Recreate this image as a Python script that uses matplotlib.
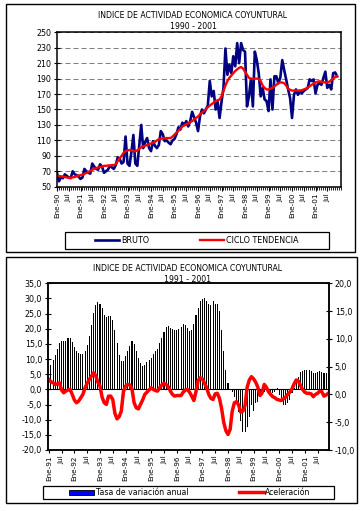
import matplotlib
matplotlib.use("Agg")
import matplotlib.pyplot as plt
from matplotlib.patches import Rectangle, Patch
from matplotlib.lines import Line2D
from matplotlib.ticker import FuncFormatter, MultipleLocator
import numpy as np

plt.rcParams['font.family'] = ['DejaVu Sans']

# ---------------- Top chart data (monthly, Jan-1990 .. Dec-2001) ----------------
bruto = [
    68, 57, 62, 61, 66, 64, 62, 61, 70, 66, 65, 63,        # 1990
    60, 62, 73, 70, 68, 67, 80, 76, 73, 72, 79, 76,        # 1991
    68, 70, 72, 77, 75, 73, 78, 88, 86, 80, 82, 115,       # 1992
    80, 77, 95, 117, 80, 77, 103, 130, 100, 108, 113, 100, # 1993
    96, 109, 103, 100, 104, 122, 118, 109, 110, 107, 105, 110,  # 1994
    112, 118, 127, 124, 133, 130, 135, 128, 135, 147, 140, 133, # 1995
    122, 141, 150, 145, 150, 155, 187, 167, 174, 150, 160, 139, # 1996
    160, 178, 229, 195, 208, 197, 219, 206, 236, 210, 236, 227, # 1997
    225, 154, 167, 189, 154, 225, 214, 197, 167, 178, 163, 161, # 1998
    148, 189, 150, 193, 193, 184, 191, 214, 201, 189, 176, 165, # 1999
    139, 169, 176, 169, 174, 171, 174, 176, 178, 189, 187, 189, # 2000
    171, 182, 184, 182, 191, 199, 178, 182, 176, 197, 198, 193, # 2001
]
ciclo = [
    64, 64, 63.5, 63, 62.5, 62, 61.5, 61.5, 62, 62.5, 63.5, 64.5,
    65, 65.5, 66.5, 68, 69, 70.5, 72, 73, 74, 75, 75.5, 76,
    77, 77, 77.5, 77.5, 78, 78, 79, 83, 87, 90, 94, 96,
    97, 97.5, 97, 96.5, 96, 97, 99, 101, 102, 103, 104, 105,
    106, 107, 108, 110, 111.5, 112, 112.5, 113, 113, 113, 113, 115,
    117.5, 120, 122.5, 125, 128, 129.5, 131, 132, 133.5, 135, 137, 139,
    141, 143.5, 146, 148, 150.5, 153, 155, 157, 159, 161, 162, 163,
    167, 174, 181, 187, 191, 194, 197, 200, 202, 204, 205, 203,
    199, 195, 191, 190, 190, 190, 190, 189.5, 187, 181, 178, 176,
    176, 177, 178, 180, 182, 184, 185, 185, 184, 181, 177, 175.5,
    174.5, 174.5, 174.5, 174.5, 174.5, 175, 176, 177, 178.5, 180, 182, 183.5,
    185, 186, 186.5, 186, 185.5, 185, 185, 186, 188, 190, 192, 193,
]
top_title = "INDICE DE ACTIVIDAD ECONOMICA COYUNTURAL"
top_sub = "1990 - 2001"
top_start_year = 1990

# ---------------- Bottom chart data (monthly, Jan-1991 .. Dec-2001) ----------------
tasa = [
    3.3, 8, 9.6, 11.4, 13.2, 15.2, 16, 15.8, 16, 16.9, 16.9, 15.5,
    14, 12.5, 11.9, 11.6, 11.8, 12.7, 14.7, 17.6, 21.3, 25.1, 27.9, 28.8,
    28.1, 26.8, 24.6, 24, 24.3, 24.3, 22.9, 19.6, 15.4, 11.4, 9.2, 9.4,
    11, 12.7, 14.4, 16, 14.9, 12.5, 10.5, 8.6, 7.7, 8, 8.9, 9.7,
    10.3, 11.6, 12.5, 13.2, 15.4, 17.1, 19, 20.7, 21, 20.4, 20, 19.6,
    19.6, 20, 20.7, 21.5, 21.3, 20.2, 19.3, 19.6, 21.6, 24.6, 27, 29,
    29.8, 30.1, 29.3, 28.2, 27.9, 29, 28.1, 28.2, 25.7, 19.6, 12.5, 6.4,
    2.0, -0.3, -1, -2.5, -4, -7.4, -10.5, -14, -14, -12.3, -9, -5,
    -7, -4.6, -4, -2.4, -1.9, -0.8, 0.3, -1.3, -1.9, -1.3, -0.8, 0.3,
    -1.9, -3, -5.2, -5.2, -4.6, -3.5, -1.3, 0.3, 2.5, 4.2, 5.6, 6.1,
    6.4, 6.4, 6.4, 6.1, 5.5, 5.5, 5.8, 6.1, 5.8, 5.5, 5.3, 5.0,
]
aceleracion = [
    2.7, 2.3, 2.1, 1.8, 1.9, 2.1, 0.8, 0.3, 0.6, 0.8, 0.9, 0.0,
    -1.0, -1.5, -1.2, -0.6, 0.0, 1.2, 2.0, 2.7, 3.3, 3.9, 3.4, 2.2,
    1.5, -0.5, -1.5, -1.8, -0.3, -0.3, -0.9, -3.4, -4.4, -4.0, -3.0, 0.5,
    1.5, 1.8, 1.7, 1.0, -1.5, -2.4, -2.6, -1.8, -1.0, 0.0, 0.4, 0.8,
    1.2, 0.9, 0.7, 0.6, 1.2, 1.7, 2.0, 1.8, 1.4, 0.6, 0.0, -0.3,
    -0.2, -0.2, -0.2, 0.4, 0.8, 0.9, 0.4, -0.3, -1.1, 0.5, 2.5, 3.0,
    2.8, 2.0, 1.2, 0.0, -0.7, -0.9, 0.1, 0.2, -0.7, -2.5, -5.0, -6.5,
    -7.2, -6.3, -3.0, -1.5, -1.3, -1.9, -3.2, -3.0, -2.0, 1.3, 2.6, 3.2,
    2.8, 2.2, 1.3, -0.2, 0.3, 1.8, 1.3, 0.5, 0.0, -0.4, -0.6, -0.9,
    -1.0, -1.1, -0.8, -0.5, 0.0, 0.4, 1.0, 1.9, 2.6, 2.4, 1.6, 0.9,
    0.4, 0.2, 0.2, 0.1, -0.4, 0.0, 0.2, 0.6, 0.5, -0.3, -0.1, 0.2,
]
bot_title = "INDICE DE ACTIVIDAD ECONOMICA COYUNTURAL"
bot_sub = "1991 - 2001"
bot_start_year = 1991

W, H = 361, 511
fig = plt.figure(figsize=(W / 100, H / 100), dpi=100)
fig.patch.set_facecolor("white")


def fx(px):
    return px / W


def fy(py):
    return 1 - py / H


def axes_px(l, t, r, b):
    return fig.add_axes([fx(l), fy(b), fx(r) - fx(l), fy(t) - fy(b)])


def month_labels(n, start_year):
    pos = list(range(0, n, 6))
    labs = []
    for m in pos:
        if m % 12 == 0:
            labs.append("Ene-%02d" % ((start_year + m // 12) % 100))
        else:
            labs.append("Jul")
    return pos, labs


# outer frames
fig.patches.append(Rectangle((fx(6), fy(252)), fx(355) - fx(6), fy(4) - fy(252),
                             transform=fig.transFigure, fill=False, lw=1.0, ec="black"))
fig.patches.append(Rectangle((fx(6), fy(503)), fx(357) - fx(6), fy(257) - fy(503),
                             transform=fig.transFigure, fill=False, lw=1.0, ec="black"))

TICK_FS = 5.7
XT_FS = 5.2
TITLE_FS = 5.6

# ---------------- Top chart ----------------
ax1 = axes_px(57, 32.3, 341, 186.7)
m1 = np.arange(len(bruto))
ax1.plot(m1, bruto, color="#000080", lw=1.9)
ax1.plot(m1, ciclo, color="#ff0000", lw=1.7)
ax1.set_xlim(0, 145)
ax1.set_ylim(50, 250)
ax1.set_yticks(np.arange(50, 251, 20))
ax1.yaxis.grid(True, color="#808080", lw=0.75, linestyle=(0, (4.8, 2.9)))
ax1.set_axisbelow(True)
pos, labs = month_labels(len(bruto), top_start_year)
ax1.set_xticks(pos)
ax1.set_xticklabels(labs, rotation=90, fontsize=XT_FS)
ax1.xaxis.set_minor_locator(MultipleLocator(1))
ax1.tick_params(axis="x", which="major", direction="out", length=3, width=0.8, pad=1.5)
ax1.tick_params(axis="x", which="minor", direction="out", length=1.8, width=0.6)
ax1.tick_params(axis="y", direction="inout", length=4, width=0.8, labelsize=TICK_FS, pad=2)
for s in ax1.spines.values():
    s.set_linewidth(1.1)
fig.text(fx(193), fy(15.3), top_title, ha="center", va="center", fontsize=TITLE_FS)
fig.text(fx(193), fy(26.3), top_sub, ha="center", va="center", fontsize=TITLE_FS)

# top legend
fig.patches.append(Rectangle((fx(65), fy(249.3)), fx(329) - fx(65), fy(231.7) - fy(249.3),
                             transform=fig.transFigure, fill=False, lw=0.9, ec="black"))
h1 = [Line2D([], [], color="#000080", lw=1.9), Line2D([], [], color="#ff0000", lw=1.7)]
fig.legend(h1, ["BRUTO", "CICLO TENDENCIA"], loc="center",
           bbox_to_anchor=(fx(197), fy(240.5)), ncol=2, frameon=False,
           fontsize=5.8, handlelength=3.0, handletextpad=0.25, columnspacing=6.3)

# ---------------- Bottom chart ----------------
ax2 = axes_px(47.7, 283.3, 329.3, 450)
n2 = np.arange(len(tasa))
ax2.bar(n2, tasa, width=0.5, color="black", edgecolor="none")
ax2.axhline(0, color="black", lw=0.8)
ax2.set_xlim(-0.5, len(tasa) - 0.5)
ax2.set_ylim(-20, 35)
ax2.set_yticks(np.arange(-20, 36, 5))
ax2.yaxis.set_major_formatter(FuncFormatter(lambda v, p: ("%.1f" % v).replace(".", ",")))
pos2, labs2 = month_labels(len(tasa), bot_start_year)
ax2.set_xticks(pos2)
ax2.set_xticklabels(labs2, rotation=90, fontsize=XT_FS)
ax2.tick_params(axis="x", direction="out", length=2.5, width=0.8, pad=1.5)
ax2.tick_params(axis="y", direction="inout", length=4, width=0.8, labelsize=TICK_FS, pad=2)
for s in ax2.spines.values():
    s.set_linewidth(1.1)

ax2r = ax2.twinx()
ax2r.plot(n2, aceleracion, color="#ff0000", lw=2.5)
ax2r.set_ylim(-10, 20)
ax2r.set_yticks(np.arange(-10, 21, 5))
ax2r.yaxis.set_major_formatter(FuncFormatter(lambda v, p: ("%.1f" % v).replace(".", ",")))
ax2r.tick_params(axis="y", direction="inout", length=4, width=0.8, labelsize=TICK_FS, pad=2)
ax2r.set_xlim(-0.5, len(tasa) - 0.5)
for s in ax2r.spines.values():
    s.set_linewidth(1.1)

fig.text(fx(187.7), fy(268.3), bot_title, ha="center", va="center", fontsize=TITLE_FS)
fig.text(fx(187.7), fy(279.3), bot_sub, ha="center", va="center", fontsize=TITLE_FS)

# bottom legend
fig.patches.append(Rectangle((fx(43), fy(499)), fx(334) - fx(43), fy(486) - fy(499),
                             transform=fig.transFigure, fill=False, lw=0.9, ec="black"))
h2 = [Patch(facecolor="#0000ff", edgecolor="black", lw=0.6),
      Line2D([], [], color="#ff0000", lw=2.5)]
fig.legend(h2, ["Tasa de variación anual", "Aceleración"], loc="center",
           bbox_to_anchor=(fx(190), fy(492.5)), ncol=2, frameon=False,
           fontsize=5.6, handlelength=3.2, handleheight=0.55, handletextpad=0.2,
           columnspacing=6.5)

fig.savefig("out.png", dpi=100, facecolor="white")
